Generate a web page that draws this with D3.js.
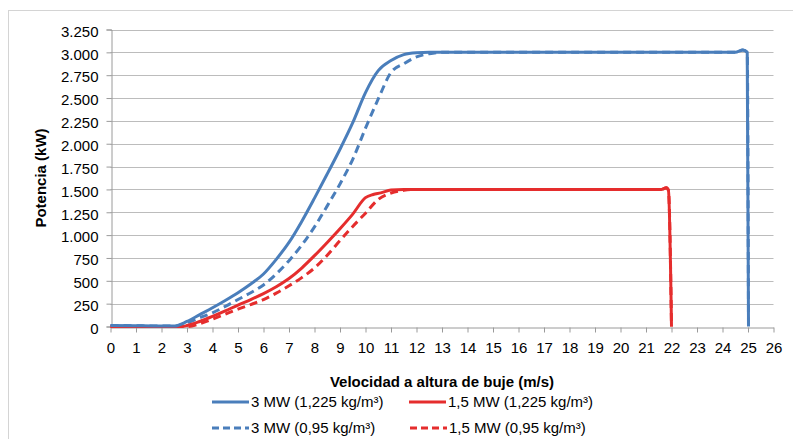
<!DOCTYPE html>
<html>
<head>
<meta charset="utf-8">
<script src="https://cdn.jsdelivr.net/npm/d3@7"></script>
<style>
  html, body { margin: 0; padding: 0; background: #fff; }
  svg { display: block; font-family: "Liberation Sans", Arial, sans-serif; }
</style>
</head>
<body>
<div id="chart"></div>
<script>
// Power curves
const speed3MW1225 = [0, 1, 2, 2.5, 3, 3.5, 4, 4.5, 5, 5.5, 6, 6.5, 7, 7.5, 8, 8.5, 9, 9.5, 10, 10.5, 11, 11.5, 12, 12.5, 24.5, 24.8, 24.97, 25.02];
const power3MW1225 = [12, 8, 5, 5, 55, 130, 205, 285, 370, 465, 575, 735, 920, 1150, 1405, 1670, 1940, 2230, 2560, 2800, 2910, 2975, 2995, 3000, 3000, 3025, 3000, 0];

const speed3MW095 = [0, 1, 2, 2.5, 3, 3.5, 4, 4.5, 5, 5.5, 6, 6.5, 7, 7.5, 8, 8.5, 9, 9.5, 10, 10.5, 11, 11.5, 12, 12.5, 13, 24.5, 24.8, 24.97, 25.02];
const power3MW095 = [12, 8, 5, 5, 40, 95, 150, 220, 295, 370, 455, 575, 720, 890, 1090, 1320, 1560, 1830, 2170, 2490, 2780, 2875, 2950, 2985, 3000, 3000, 3025, 3000, 0];

const speed15MW1225 = [0, 1, 2, 2.8, 3, 3.5, 4, 4.5, 5, 5.5, 6, 6.5, 7, 7.5, 8, 8.5, 9, 9.5, 10, 10.3, 10.6, 11, 11.5, 12, 21.6, 21.8, 21.88, 22.0];
const power15MW1225 = [0, 0, 0, 0, 10, 55, 110, 170, 235, 295, 360, 435, 525, 640, 775, 920, 1070, 1230, 1410, 1445, 1462, 1495, 1500, 1500, 1500, 1518, 1490, 0];

const speed15MW095 = [0, 1, 2, 3, 3.5, 4, 4.5, 5, 5.5, 6, 6.5, 7, 7.5, 8, 8.5, 9, 9.5, 10, 10.5, 11, 11.5, 12, 21.6, 21.8, 21.88, 22.0];
const power15MW095 = [0, 0, 0, 0, 30, 80, 135, 190, 240, 295, 365, 445, 535, 640, 780, 940, 1095, 1240, 1390, 1460, 1490, 1500, 1500, 1518, 1490, 0];

const seriesNames = ["3 MW (1,225 kg/m³)", "1,5 MW (1,225 kg/m³)", "3 MW (0,95 kg/m³)", "1,5 MW (0,95 kg/m³)"];
const xTicks = d3.range(0, 27, 1);
const yTicks = d3.range(0, 3251, 250);

const blue = "#4a7ebb";
const red = "#e52d2d";

const width = 793, height = 439;
const margin = { top: 29.5, left: 110.5, right: 793 - 773.5, bottom: 439 - 326.5 };

const svg = d3.select("#chart").append("svg")
    .attr("width", width)
    .attr("height", height);

// chart border
svg.append("rect")
    .attr("x", 8.5).attr("y", 10.5)
    .attr("width", 800).attr("height", 440)
    .attr("fill", "none")
    .attr("stroke", "#d4d4d4");

const x = d3.scaleLinear().domain([0, 26]).range([margin.left, width - margin.right]);
const y = d3.scaleLinear().domain([0, 3250]).range([height - margin.bottom, margin.top]);

const fmtY = v => d3.format(",")(v).replace(/,/g, ".");

// gridlines
svg.append("g")
    .selectAll("line")
    .data(yTicks.slice(1))
    .join("line")
    .attr("x1", x(0)).attr("x2", x(26))
    .attr("y1", d => Math.round(y(d)) + 0.5).attr("y2", d => Math.round(y(d)) + 0.5)
    .attr("stroke", "#bcbcbc");

// y axis
const yAxis = svg.append("g")
    .attr("transform", `translate(${Math.round(x(0)) + 0.5},0)`)
    .call(d3.axisLeft(y).tickValues(yTicks).tickFormat(fmtY).tickSize(5).tickPadding(8));
yAxis.select(".domain").attr("stroke", "#9a9a9a");
yAxis.selectAll(".tick line").attr("stroke", "#9a9a9a");
yAxis.selectAll(".tick text")
    .attr("font-size", "15px")
    .attr("fill", "#000")
    .attr("dy", "0.45em")
    .style("font-family", "Liberation Sans, Arial, sans-serif");

// x axis
const xAxis = svg.append("g")
    .attr("transform", `translate(0,${Math.round(y(0)) + 0.5})`)
    .call(d3.axisBottom(x).tickValues(xTicks).tickFormat(d3.format("d")).tickSize(5).tickSizeOuter(0).tickPadding(10));
xAxis.select(".domain").attr("stroke", "#9a9a9a");
xAxis.selectAll(".tick line").attr("stroke", "#9a9a9a");
xAxis.selectAll(".tick text")
    .attr("font-size", "15px")
    .attr("fill", "#000")
    .style("font-family", "Liberation Sans, Arial, sans-serif");

// axis titles
svg.append("text")
    .attr("x", (x(0) + x(26)) / 2)
    .attr("y", 387)
    .attr("text-anchor", "middle")
    .attr("font-size", "15px")
    .attr("font-weight", "bold")
    .text("Velocidad a altura de buje (m/s)");

svg.append("text")
    .attr("transform", `translate(46,${(y(0) + y(3250)) / 2}) rotate(-90)`)
    .attr("text-anchor", "middle")
    .attr("font-size", "15px")
    .attr("font-weight", "bold")
    .text("Potencia (kW)");

// curves
const series = [
    { name: seriesNames[0], xs: speed3MW1225, ys: power3MW1225, color: blue, dash: null },
    { name: seriesNames[1], xs: speed15MW1225, ys: power15MW1225, color: red, dash: null },
    { name: seriesNames[2], xs: speed3MW095, ys: power3MW095, color: blue, dash: "8,5" },
    { name: seriesNames[3], xs: speed15MW095, ys: power15MW095, color: red, dash: "8,5" }
];

const line = d3.line()
    .x(d => x(d[0]))
    .y(d => y(d[1]))
    .curve(d3.curveMonotoneX);

// draw dashed first so solid sits on top
const drawOrder = [3, 2, 1, 0];
svg.append("g")
    .selectAll("path")
    .data(drawOrder.map(i => series[i]))
    .join("path")
    .attr("d", s => line(s.xs.map((v, i) => [v, s.ys[i]])))
    .attr("fill", "none")
    .attr("stroke", s => s.color)
    .attr("stroke-width", 3)
    .attr("stroke-linejoin", "round")
    .attr("stroke-dasharray", s => s.dash);

// legend
const legendPos = [
    { lx: 212, ly: 402 },
    { lx: 409, ly: 402 },
    { lx: 212, ly: 428 },
    { lx: 410, ly: 428 }
];

const legend = svg.append("g")
    .selectAll("g")
    .data(series)
    .join("g")
    .attr("transform", (d, i) => `translate(${legendPos[i].lx},${legendPos[i].ly})`);

legend.append("line")
    .attr("x1", 0).attr("x2", 37)
    .attr("stroke", d => d.color)
    .attr("stroke-width", 3)
    .attr("stroke-dasharray", d => d.dash ? "7,4" : null);

legend.append("text")
    .attr("x", 39)
    .attr("dy", "0.36em")
    .attr("font-size", "15px")
    .attr("fill", "#000")
    .text(d => d.name);
</script>
</body>
</html>
